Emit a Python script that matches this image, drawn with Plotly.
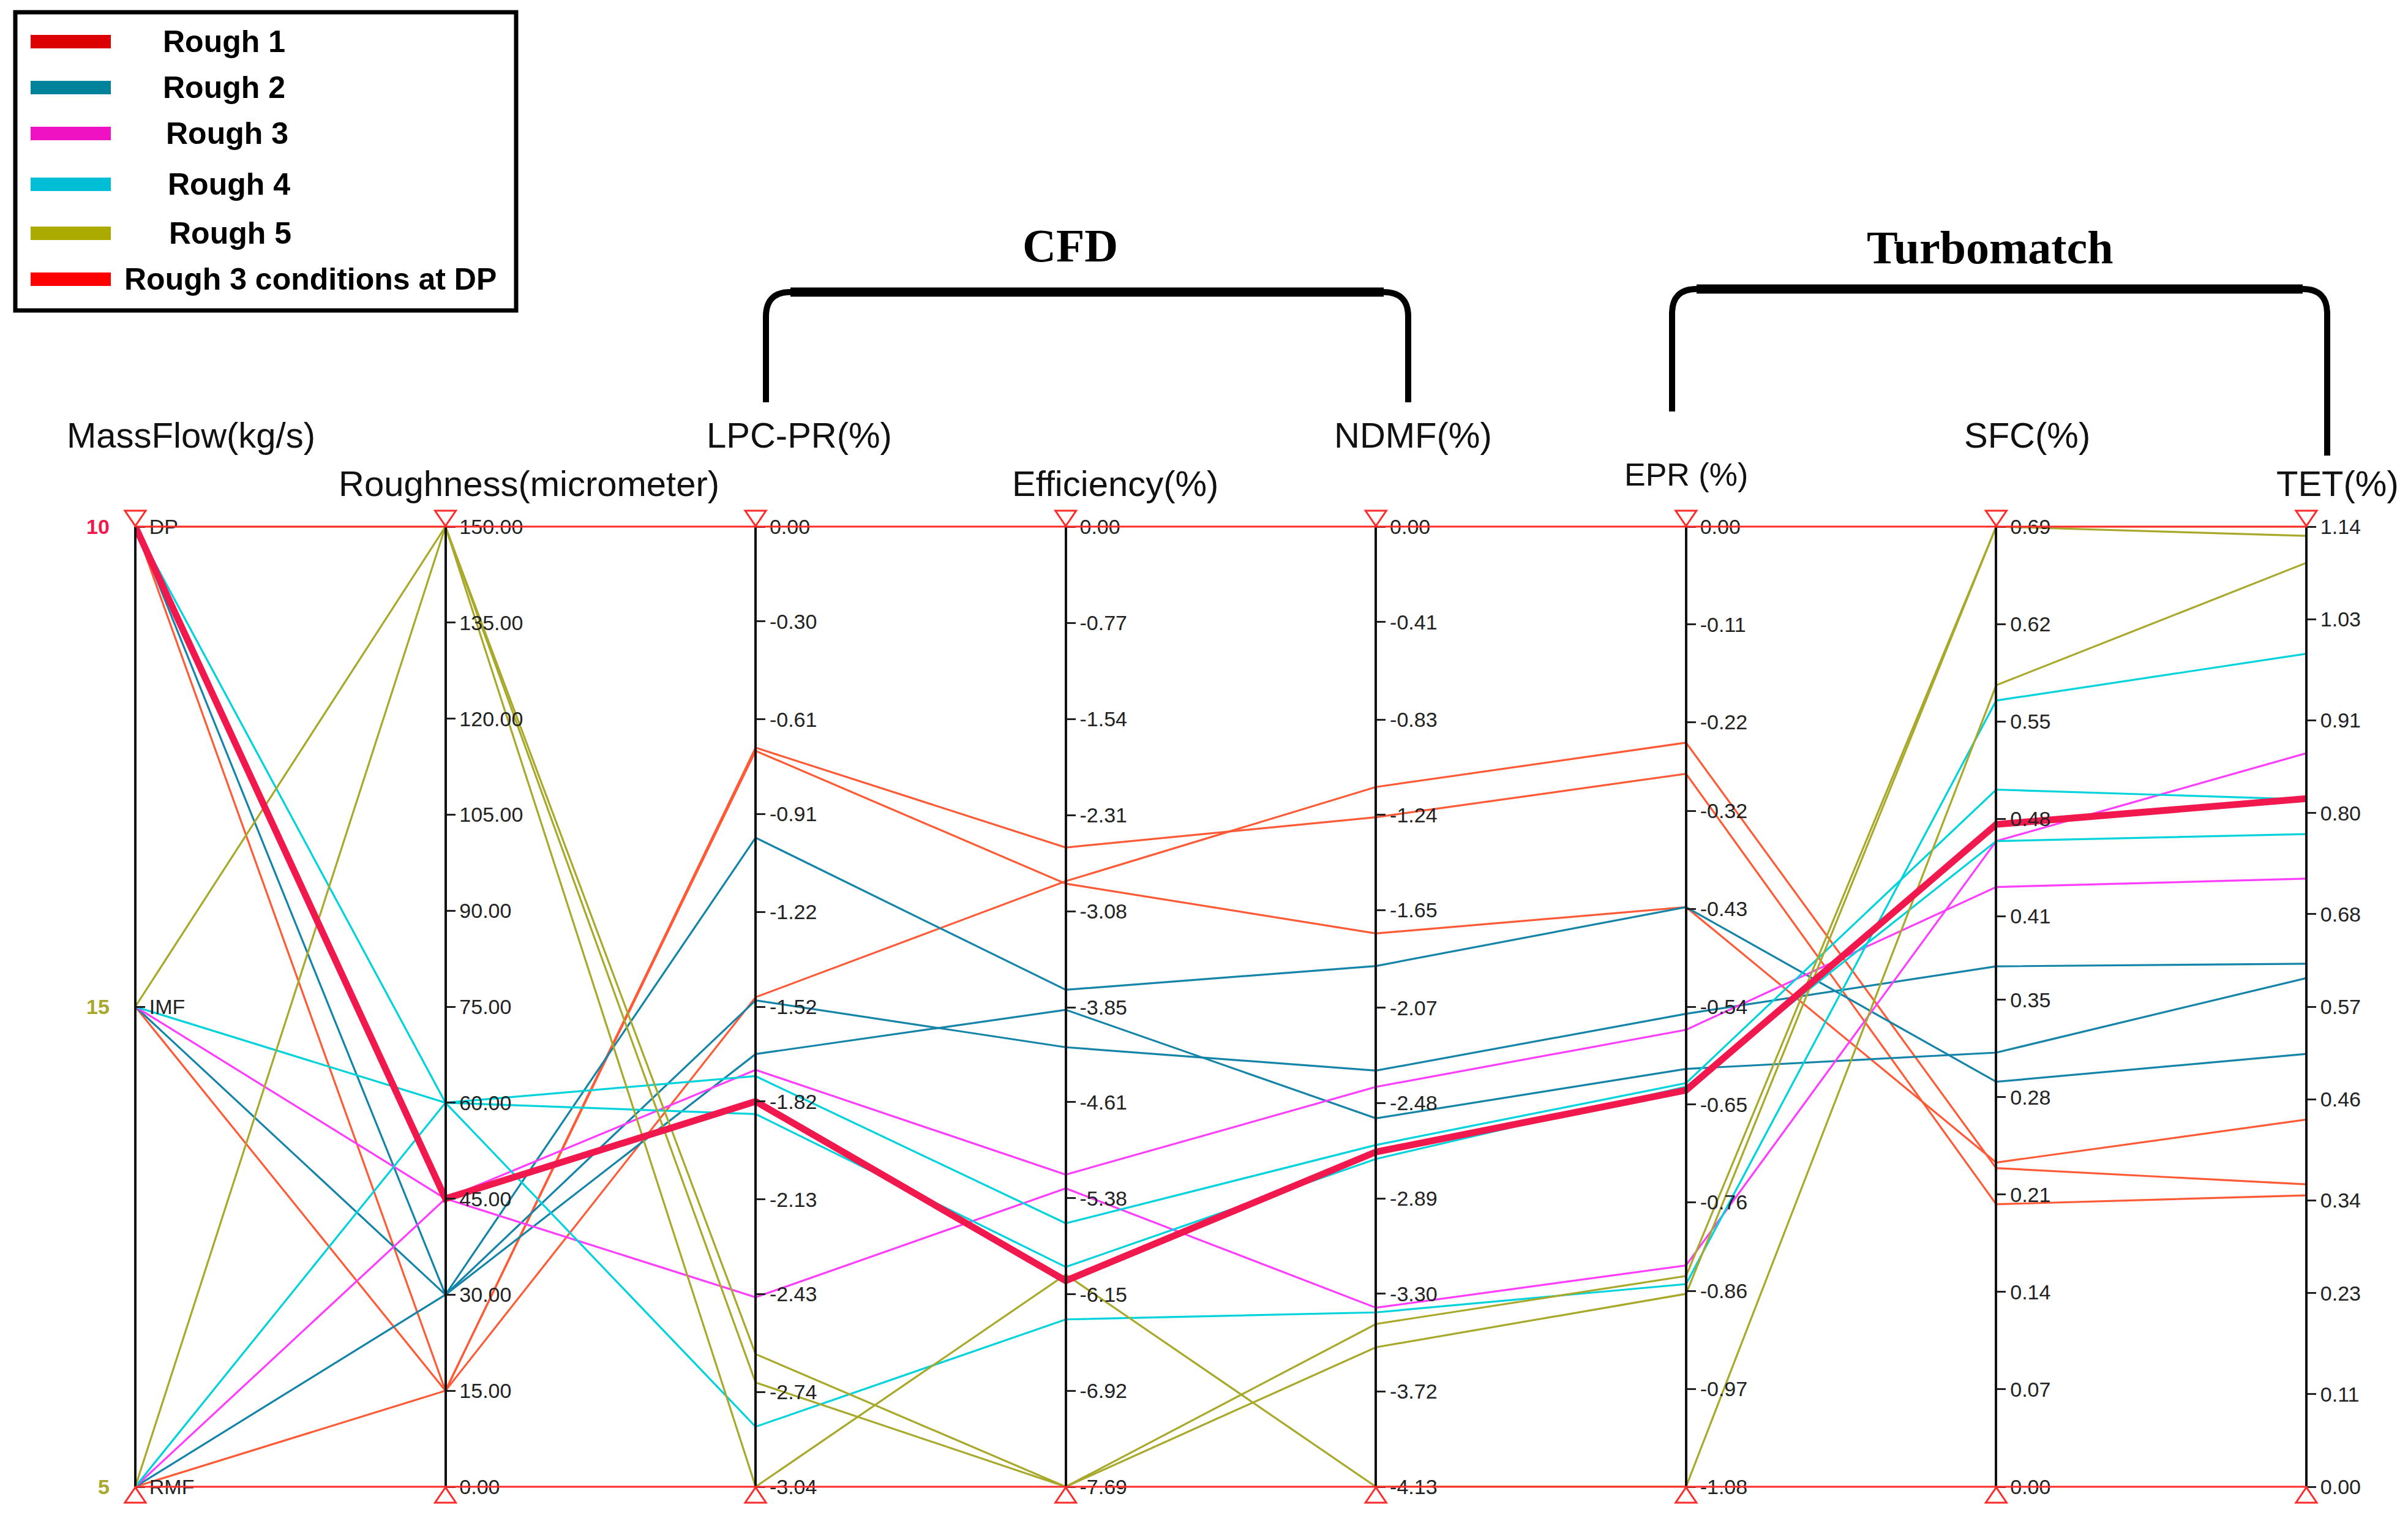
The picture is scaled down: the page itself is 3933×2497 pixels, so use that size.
import plotly.graph_objects as go

# axes of the parallel coordinates chart
axis_titles = ["MassFlow(kg/s)", "Roughness(micrometer)", "LPC-PR(%)", "Efficiency(%)",
               "NDMF(%)", "EPR (%)", "SFC(%)", "TET(%)"]
axis_lo = [0, 0, -3.04, -7.69, -4.13, -1.08, 0.0, 0.0]
axis_hi = [2, 150, 0.0, 0.0, 0.0, 0.0, 0.69, 1.14]

massflow_levels = ["RMF", "IMF", "DP"]
tick_labels = [
    ["RMF", "IMF", "DP"],
    ["0.00", "15.00", "30.00", "45.00", "60.00", "75.00", "90.00", "105.00", "120.00", "135.00", "150.00"],
    ["-3.04", "-2.74", "-2.43", "-2.13", "-1.82", "-1.52", "-1.22", "-0.91", "-0.61", "-0.30", "0.00"],
    ["-7.69", "-6.92", "-6.15", "-5.38", "-4.61", "-3.85", "-3.08", "-2.31", "-1.54", "-0.77", "0.00"],
    ["-4.13", "-3.72", "-3.30", "-2.89", "-2.48", "-2.07", "-1.65", "-1.24", "-0.83", "-0.41", "0.00"],
    ["-1.08", "-0.97", "-0.86", "-0.76", "-0.65", "-0.54", "-0.43", "-0.32", "-0.22", "-0.11", "0.00"],
    ["0.00", "0.07", "0.14", "0.21", "0.28", "0.35", "0.41", "0.48", "0.55", "0.62", "0.69"],
    ["0.00", "0.11", "0.23", "0.34", "0.46", "0.57", "0.68", "0.80", "0.91", "1.03", "1.14"],
]

# one polyline per case (group x mass flow condition)
line_group = ["Rough 1"] * 3 + ["Rough 2"] * 3 + ["Rough 3"] * 3 + ["Rough 4"] * 3 + ["Rough 5"] * 3
massflow = ["DP", "IMF", "RMF"] * 5
roughness = [15, 15, 15, 30, 30, 30, 45, 45, 45, 60, 60, 60, 150, 150, 150]
lpc_pr = [-0.70, -0.71, -1.49, -0.985, -1.50, -1.67, -1.82, -1.72, -2.44,
          -1.74, -1.86, -2.85, -2.62, -2.71, -3.04]
efficiency = [-2.57, -2.86, -2.84, -3.71, -4.17, -3.87, -6.04, -5.19, -5.30,
              -5.58, -5.93, -6.35, -7.69, -7.69, -5.99]
ndmf = [-1.25, -1.75, -1.12, -1.89, -2.34, -2.545, -2.69, -2.41, -3.36,
        -2.66, -2.72, -3.38, -3.43, -3.53, -4.13]
epr = [-0.278, -0.428, -0.243, -0.428, -0.548, -0.610, -0.634, -0.566, -0.831,
       -0.626, -0.630, -0.852, -0.843, -0.863, -1.08]
sfc = [0.203, 0.233, 0.229, 0.291, 0.374, 0.312, 0.476, 0.431, 0.464,
       0.501, 0.464, 0.565, 0.69, 0.69, 0.576]
tet = [0.346, 0.436, 0.359, 0.514, 0.621, 0.604, 0.817, 0.722, 0.871,
       0.816, 0.775, 0.989, 1.129, 1.14, 1.097]

highlight_group, highlight_flow = "Rough 3", "DP"

line_colors = {"Rough 1": "#FF5A36", "Rough 2": "#1484A8", "Rough 3": "#FF3DFF",
               "Rough 4": "#00D3DC", "Rough 5": "#A8A82A"}
highlight_color = "#F0184C"

legend_names = ["Rough 1", "Rough 2", "Rough 3", "Rough 4", "Rough 5", "Rough 3 conditions at DP"]
legend_colors = ["#DD0000", "#00829A", "#EE12C2", "#00BED6", "#AAAA00", "#FF0000"]

# page is 3933 x 2497, body has an 8px margin
PAD = 8
W, H = 3933 - 2 * PAD, 2497 - 2 * PAD
# plot area in page pixels
L, R, T, B = 221, 3767, 860, 2428


def X(p):
    return (p - L) / (R - L)


def Y(p):
    return (B - p) / (B - T)


fig = go.Figure()

rows = list(zip(line_group, massflow, roughness, lpc_pr, efficiency, ndmf, epr, sfc, tet))
order = sorted(range(len(rows)), key=lambda i: (rows[i][0], rows[i][1]) == (highlight_group, highlight_flow))
for i in order:
    g, mf, *rest = rows[i]
    vals = [massflow_levels.index(mf)] + rest
    ys = [(v - lo) / (hi - lo) for v, lo, hi in zip(vals, axis_lo, axis_hi)]
    hl = (g, mf) == (highlight_group, highlight_flow)
    fig.add_trace(go.Scatter(
        x=list(range(len(axis_titles))), y=ys, mode="lines",
        line=dict(color=highlight_color if hl else line_colors[g], width=11 if hl else 3.2),
        name=f"{g} {mf}", showlegend=False, hoverinfo="skip"))

# one overlaid y axis per dimension, placed at its own x position
n = len(axis_titles)
for k in range(n):
    ax = f"yaxis{k + 2}"
    fig.add_trace(go.Scatter(x=[k, k], y=[axis_lo[k], axis_hi[k]], mode="none",
                             yaxis=f"y{k + 2}", showlegend=False, hoverinfo="skip"))
    if k == 0:
        tv = [massflow_levels.index(t) for t in tick_labels[0]]
    else:
        tv = [float(t) for t in tick_labels[k]]
    fig.update_layout({ax: dict(
        overlaying="y", anchor="free", position=k / (n - 1), side="right",
        range=[axis_lo[k], axis_hi[k]], tickvals=tv, ticktext=tick_labels[k],
        showline=True, linecolor="#111111", linewidth=4, showgrid=False, zeroline=False,
        ticks="outside", ticklen=14, tickwidth=3, tickcolor="#222222",
        tickfont=dict(size=34, color="#222222", family="Liberation Sans, Arial"),
    )})

title_dx = [0.18, 0.27, 0.14, 0.16, 0.12, 0.0, 0.10, 0.10]
title_py = [710, 790, 710, 790, 710, 775, 710, 790]
annotations = []
for k, t in enumerate(axis_titles):
    annotations.append(dict(x=(k + title_dx[k]) / (n - 1), xref="paper", y=Y(title_py[k]), yref="paper",
                            text=t, showarrow=False, xanchor="center", yanchor="middle",
                            font=dict(size=52 if k == 5 else 58, color="#111111")))

# coloured value labels left of the MassFlow axis
for txt, lvl, col in [("10", "DP", "#F0184C"), ("15", "IMF", "#A8A82A"), ("5", "RMF", "#A8A82A")]:
    annotations.append(dict(x=0, xref="paper", y=massflow_levels.index(lvl) / 2, yref="y",
                            xshift=-40, text=f"<b>{txt}</b>", showarrow=False,
                            xanchor="right", yanchor="middle", font=dict(size=34, color=col)))

# group headers
for txt, px, py in [("CFD", 1748, 401), ("Turbomatch", 3250, 404)]:
    annotations.append(dict(x=X(px), y=Y(py), xref="paper", yref="paper", text=f"<b>{txt}</b>",
                            showarrow=False, xanchor="center", yanchor="middle",
                            font=dict(size=76, family="Liberation Serif, Times New Roman", color="black")))

shapes = []
# red limit lines at top and bottom of all axes
for yv in (0, 1):
    shapes.append(dict(type="line", xref="paper", yref="paper", x0=0, x1=1, y0=yv, y1=yv,
                       line=dict(color="#FF2A2A", width=3)))
# filter triangles
for k in range(n):
    xa = k / (n - 1)
    shapes.append(dict(type="path", xref="paper", yref="paper", xsizemode="pixel", ysizemode="pixel",
                       xanchor=xa, yanchor=1, path="M -17,26 L 17,26 L 0,1 Z",
                       line=dict(color="#FF2A2A", width=3)))
    shapes.append(dict(type="path", xref="paper", yref="paper", xsizemode="pixel", ysizemode="pixel",
                       xanchor=xa, yanchor=0, path="M -17,-26 L 17,-26 L 0,-1 Z",
                       line=dict(color="#FF2A2A", width=3)))


def bracket(x0, x1, ytop, yb0, yb1, r=40):
    legs = (f"M {X(x0)},{Y(yb0)} L {X(x0)},{Y(ytop + r)} Q {X(x0)},{Y(ytop)} {X(x0 + r)},{Y(ytop)} "
            f"L {X(x1 - r)},{Y(ytop)} Q {X(x1)},{Y(ytop)} {X(x1)},{Y(ytop + r)} L {X(x1)},{Y(yb1)}")
    return [dict(type="path", xref="paper", yref="paper", path=legs, line=dict(color="black", width=10)),
            dict(type="line", xref="paper", yref="paper", x0=X(x0 + r), x1=X(x1 - r),
                 y0=Y(ytop), y1=Y(ytop), line=dict(color="black", width=15))]


shapes += bracket(1251, 2300, 477, 657, 657)
shapes += bracket(2731, 3801, 472, 672, 744)

# legend box
shapes.append(dict(type="rect", xref="paper", yref="paper", x0=X(25), x1=X(843), y0=Y(507), y1=Y(20),
                   line=dict(color="black", width=7), fillcolor="white"))
legend_py = [68, 143, 218, 301, 381, 456]
legend_tx = [366, 366, 371, 374, 376, 507]
for name, col, yy, tx in zip(legend_names, legend_colors, legend_py, legend_tx):
    shapes.append(dict(type="line", xref="paper", yref="paper", x0=X(50), x1=X(181), y0=Y(yy), y1=Y(yy),
                       line=dict(color=col, width=22)))
    annotations.append(dict(x=X(tx), y=Y(yy), xref="paper", yref="paper", text=f"<b>{name}</b>",
                            showarrow=False, xanchor="center", yanchor="middle",
                            font=dict(size=50, color="black",
                                      family="Liberation Sans Narrow, Arial Narrow, Liberation Sans")))

fig.update_layout(
    width=W, height=H,
    margin=dict(l=L - PAD, r=W - (R - PAD), t=T - PAD, b=H - (B - PAD), autoexpand=False),
    paper_bgcolor="white", plot_bgcolor="white",
    font=dict(family="Liberation Sans, Arial", color="#111111"),
    xaxis=dict(range=[0, n - 1], visible=False),
    yaxis=dict(range=[0, 1], visible=False),
    showlegend=False,
    annotations=annotations,
    shapes=shapes,
)

fig.write_html("out.html")
